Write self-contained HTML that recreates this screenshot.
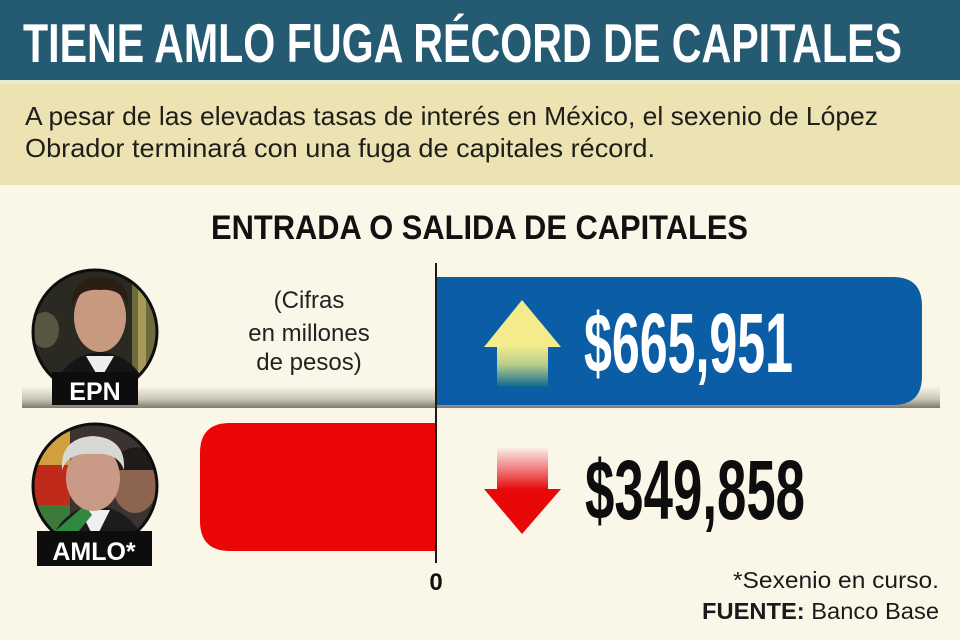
<!DOCTYPE html>
<html>
<head>
<meta charset="utf-8">
<style>
  html,body{margin:0;padding:0;background:#fbf7e8;}
  svg{display:block;}
  text{font-family:"Liberation Sans", sans-serif;}
</style>
</head>
<body>
<svg width="960" height="640" viewBox="0 0 960 640" xmlns="http://www.w3.org/2000/svg">
  <defs>
    <linearGradient id="shadow" x1="0" y1="0" x2="0" y2="1">
      <stop offset="0" stop-color="#fbf7e8"/>
      <stop offset="0.6" stop-color="#c9c6b6"/>
      <stop offset="1" stop-color="#7d7a6e"/>
    </linearGradient>
    <linearGradient id="shadowR" x1="0" y1="0" x2="1" y2="0">
      <stop offset="0" stop-color="#fbf7e8" stop-opacity="0"/>
      <stop offset="1" stop-color="#fbf7e8" stop-opacity="0"/>
    </linearGradient>
    <linearGradient id="upShaft" x1="0" y1="0" x2="0" y2="1">
      <stop offset="0" stop-color="#f2ea8c"/>
      <stop offset="0.45" stop-color="#b8cf8a"/>
      <stop offset="1" stop-color="#0f6690"/>
    </linearGradient>
    <linearGradient id="downShaft" x1="0" y1="0" x2="0" y2="1">
      <stop offset="0" stop-color="#fbf3ea"/>
      <stop offset="0.5" stop-color="#f08080"/>
      <stop offset="1" stop-color="#e60808"/>
    </linearGradient>
    <clipPath id="c1"><circle cx="95" cy="332" r="62"/></clipPath>
    <clipPath id="c2"><circle cx="95" cy="486" r="62"/></clipPath>
  </defs>

  <!-- header -->
  <rect x="0" y="0" width="960" height="80" fill="#245b72"/>
  <rect x="0" y="80" width="960" height="4" fill="#e8ecd2"/>
  <rect x="0" y="84" width="960" height="101" fill="#ede3b2"/>
  <rect x="0" y="185" width="960" height="455" fill="#fbf7e8"/>

  <text x="23" y="62" font-size="55" font-weight="bold" fill="#ffffff" textLength="879" lengthAdjust="spacingAndGlyphs">TIENE AMLO FUGA RÉCORD DE CAPITALES</text>

  <text x="25" y="125" font-size="26" fill="#1e1e1a" textLength="853" lengthAdjust="spacingAndGlyphs">A pesar de las elevadas tasas de interés en México, el sexenio de López</text>
  <text x="25" y="157" font-size="26" fill="#1e1e1a" textLength="630" lengthAdjust="spacingAndGlyphs">Obrador terminará con una fuga de capitales récord.</text>

  <!-- chart title -->
  <text x="211" y="239" font-size="34" font-weight="bold" fill="#111" textLength="537" lengthAdjust="spacingAndGlyphs">ENTRADA O SALIDA DE CAPITALES</text>

  <!-- shadow bar -->
  <rect x="22" y="386" width="918" height="22" fill="url(#shadow)"/>

  <!-- blue bar -->
  <path d="M436 277 H893 Q922 277 922 306 V376 Q922 405 893 405 H436 Z" fill="#0b5ea6"/>

  <!-- red bar -->
  <path d="M230 423 H436 V551 H230 Q200 551 200 521 V453 Q200 423 230 423 Z" fill="#ea0606"/>

  <!-- axis -->
  <line x1="436" y1="263" x2="436" y2="563" stroke="#1a1a1a" stroke-width="2"/>
  <text x="436" y="590" font-size="24" font-weight="bold" fill="#111" text-anchor="middle">0</text>

  <!-- up arrow -->
  <rect x="497" y="346" width="51" height="41" fill="url(#upShaft)"/>
  <polygon points="484,347 522,300 561,347" fill="#f4ec8c"/>
  <text x="584" y="372" font-size="84" font-weight="bold" fill="#ffffff" textLength="209" lengthAdjust="spacingAndGlyphs">$665,951</text>

  <!-- down arrow -->
  <rect x="497" y="447" width="51" height="43" fill="url(#downShaft)"/>
  <polygon points="484,489 561,489 522,534" fill="#e80808"/>
  <text x="585" y="519" font-size="84" font-weight="bold" fill="#0d0d0d" textLength="220" lengthAdjust="spacingAndGlyphs">$349,858</text>

  <!-- Cifras note -->
  <g font-size="24" fill="#222" text-anchor="middle">
    <text x="309" y="308">(Cifras</text>
    <text x="309" y="341">en millones</text>
    <text x="309" y="370">de pesos)</text>
  </g>

  <!-- EPN photo -->
  <g clip-path="url(#c1)">
    <rect x="30" y="268" width="130" height="130" fill="#2a2a22"/>
    <rect x="132" y="268" width="28" height="130" fill="#6d6a3c"/>
    <rect x="138" y="268" width="8" height="130" fill="#a59a5a"/>
    <ellipse cx="45" cy="330" rx="14" ry="18" fill="#5a5540"/>
    <path d="M50 400 Q60 355 100 352 Q140 355 150 400 Z" fill="#151515"/>
    <polygon points="86,356 114,356 100,380" fill="#eeeeee"/>
    <ellipse cx="100" cy="317" rx="26" ry="35" fill="#c79a80"/>
    <path d="M72 305 Q72 277 100 277 Q128 277 128 305 Q120 288 100 290 Q80 288 72 305 Z" fill="#2a1e15"/>
  </g>
  <circle cx="95" cy="332" r="62" fill="none" stroke="#0d0d0d" stroke-width="3"/>
  <rect x="52" y="372" width="86" height="33" fill="#0d0d0d"/>
  <text x="95" y="400" font-size="25" font-weight="bold" fill="#ffffff" text-anchor="middle">EPN</text>

  <!-- AMLO photo -->
  <g clip-path="url(#c2)">
    <rect x="30" y="422" width="130" height="130" fill="#3a3330"/>
    <rect x="30" y="422" width="40" height="50" fill="#d0a040"/>
    <rect x="30" y="465" width="40" height="40" fill="#c02a1a"/>
    <rect x="30" y="505" width="40" height="50" fill="#3c7a3a"/>
    <ellipse cx="135" cy="485" rx="22" ry="28" fill="#8c6450"/>
    <path d="M112 470 Q120 440 150 450 L160 470 Z" fill="#201a18"/>
    <path d="M45 560 Q55 510 95 505 Q140 510 150 560 Z" fill="#1c1c1c"/>
    <polygon points="80,510 110,510 95,540" fill="#f0f0f0"/>
    <path d="M45 540 L85 505 L92 515 L55 560 Z" fill="#2f8a40"/>
    <ellipse cx="93" cy="478" rx="27" ry="33" fill="#c99a86"/>
    <path d="M62 470 Q60 438 93 436 Q126 438 124 470 Q118 452 93 454 Q68 452 62 470 Z" fill="#d8d8d4"/>
  </g>
  <circle cx="95" cy="486" r="62" fill="none" stroke="#0d0d0d" stroke-width="3"/>
  <rect x="37" y="531" width="115" height="35" fill="#0d0d0d"/>
  <text x="94" y="560" font-size="25" font-weight="bold" fill="#ffffff" text-anchor="middle">AMLO*</text>

  <!-- footnotes -->
  <text x="939" y="588" font-size="23" fill="#1a1a1a" text-anchor="end" textLength="206" lengthAdjust="spacingAndGlyphs">*Sexenio en curso.</text>
  <text x="939" y="619" font-size="23" fill="#1a1a1a" text-anchor="end" textLength="237" lengthAdjust="spacingAndGlyphs"><tspan font-weight="bold">FUENTE:</tspan> Banco Base</text>
</svg>
</body>
</html>
